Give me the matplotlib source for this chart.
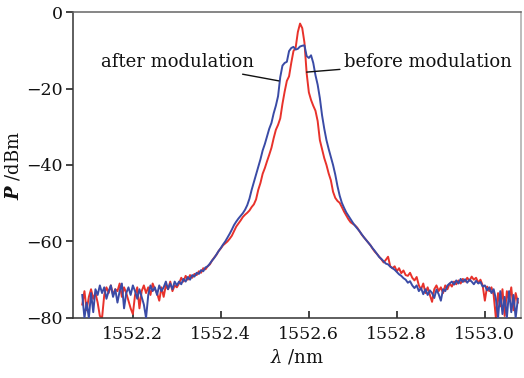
import numpy as np
import matplotlib
matplotlib.use("Agg")
import matplotlib.pyplot as plt

# wavelength sampling grid (nm), step 0.005
wl_start, wl_step, n_pts = 1552.085, 0.005, 199
wavelength = wl_start + wl_step * np.arange(n_pts)

before_mod = [
    -76.5, -73.0, -78.0, -74.5, -72.5, -75.0, -73.5, -76.0, -79.5, -80.0,
    -74.0, -72.0, -73.5, -71.5, -74.0, -72.5, -73.0, -71.0, -74.5, -72.0,
    -73.5, -75.5, -77.5, -79.0, -74.0, -72.0, -77.5, -73.0, -71.5, -73.5,
    -72.0, -74.0, -71.0, -72.5, -73.5, -75.5, -72.0, -74.5, -71.5, -72.5,
    -70.5, -73.0, -71.5, -72.0,
    -71.0, -69.5, -70.5, -69.0, -70.0, -68.8, -69.5, -68.5, -68.8, -67.8,
    -68.2, -67.0, -67.3, -66.5, -66.0, -65.0, -64.2, -63.5, -62.5, -61.8,
    -61.0, -60.5, -60.0, -59.3, -58.5, -57.3, -56.1, -55.3, -54.5, -53.6,
    -53.0, -52.5, -51.9, -51.0, -50.3, -49.0, -46.5, -44.7, -42.3, -40.8,
    -39.0, -37.3, -35.5, -33.0, -30.8, -29.5, -27.8, -24.0, -20.8, -18.0,
    -16.8, -13.3, -10.2, -9.3, -5.2, -3.0, -4.2, -8.0, -16.0, -21.0,
    -23.0, -24.5, -25.8, -28.5, -33.5, -35.8, -38.2, -40.0, -42.2, -44.0,
    -47.0, -48.6, -49.4, -49.9, -51.0, -52.2, -53.2, -54.2, -55.0, -55.4,
    -55.8, -56.4, -57.3, -58.2, -58.9, -59.6, -60.3, -61.0, -61.9, -62.7,
    -63.3, -64.0, -64.7, -65.5, -64.8, -64.0, -66.5, -67.0, -66.5, -67.8,
    -67.0, -68.3, -67.6, -68.8, -69.0, -68.2, -69.5, -70.2, -69.3, -71.5,
    -72.5, -71.0, -73.5, -72.0, -74.0, -75.8, -72.5, -71.5, -73.0, -72.0,
    -73.5, -71.5, -72.5, -71.0, -71.8, -70.5, -71.2, -70.2, -71.0, -69.8,
    -70.5, -69.5, -70.3, -69.2, -70.0, -69.5, -70.8, -70.0, -71.5, -75.5,
    -71.8, -73.0, -72.0, -74.0, -80.0, -73.5, -77.0, -72.5, -79.5, -73.0,
    -75.5, -72.0, -78.0, -73.5, -76.0,
]

after_mod = [
    -74.0, -80.0, -76.0, -80.0, -73.5, -78.5, -72.5, -74.0, -71.5, -73.5,
    -72.0, -75.0, -73.0, -71.5, -74.5, -72.5, -76.0, -73.0, -71.0, -77.5,
    -73.5, -72.0, -74.0, -71.5, -73.0, -75.0, -72.5, -74.5, -76.5, -80.0,
    -74.0, -71.5, -73.0, -72.0, -74.0, -71.5, -73.0, -72.0, -70.5, -72.5,
    -71.0, -72.5, -70.5, -71.5,
    -70.5, -71.2, -69.8, -70.5, -69.3, -70.0, -68.8, -69.2, -68.2, -68.5,
    -67.5, -67.8, -66.8, -66.5, -65.8, -65.0, -64.3, -63.4, -62.5, -61.7,
    -60.8, -60.0, -59.0, -58.0, -56.9, -55.7, -54.8, -54.0, -53.3, -52.6,
    -51.7, -50.5, -48.8, -46.5, -44.5, -42.5, -40.5, -38.5, -36.2, -34.5,
    -32.5, -30.5, -29.0, -26.5, -24.5, -22.0, -17.0, -14.0, -13.3, -13.0,
    -10.2, -9.4, -9.1, -9.8, -9.6, -9.0, -8.8, -8.7, -11.5, -12.0,
    -11.3, -13.3, -16.5, -19.0, -22.5, -27.0, -30.5, -33.5, -35.8, -37.9,
    -40.0, -42.5, -45.5, -48.0, -49.9, -51.2, -52.4, -53.3, -54.2, -55.1,
    -55.9, -56.6, -57.3, -58.1, -58.9, -59.6, -60.3, -61.0, -61.8, -62.5,
    -63.3, -64.1, -64.6, -65.2, -65.8, -66.0, -66.6, -67.0, -67.4, -68.0,
    -68.6, -69.0, -69.6, -70.0, -70.8, -70.4, -71.5, -72.2, -71.5, -73.0,
    -72.2, -73.8, -72.5, -74.0, -72.8, -73.5, -74.8, -72.6, -73.8, -75.5,
    -72.5, -73.0, -71.5, -71.0, -70.5, -71.3, -70.2, -71.0, -69.8, -70.6,
    -69.9, -70.8, -70.0, -70.5, -71.2, -70.3, -71.0, -70.6, -71.8, -71.5,
    -72.8, -72.0, -73.5, -72.5, -75.0, -80.0, -73.0, -79.0, -74.5, -80.0,
    -73.0, -78.5, -74.0, -80.0, -75.0,
]

x_ticks = [1552.2, 1552.4, 1552.6, 1552.8, 1553.0]
x_tick_labels = ["1552.2", "1552.4", "1552.6", "1552.8", "1553.0"]
y_ticks = [-80, -60, -40, -20, 0]
y_tick_labels = ["\u221280", "\u221260", "\u221240", "\u221220", "0"]

plt.rcParams['font.family'] = ['DejaVu Serif']
plt.rcParams['mathtext.fontset'] = 'dejavuserif'

fig = plt.figure(figsize=(5.24, 3.78), dpi=100)
ax = fig.add_axes([0.139, 0.159, 0.856, 0.809])

red = '#e8322b'
blue = '#3a4ba6'
ax.plot(wavelength, before_mod, color=red, lw=1.4, zorder=2)
ax.plot(wavelength, after_mod, color=blue, lw=1.4, zorder=3)

ax.set_xlim(1552.0636, 1553.083)
ax.set_ylim(-80, 0)
ax.set_xticks(x_ticks)
ax.set_xticklabels(x_tick_labels)
ax.set_yticks(y_ticks)
ax.set_yticklabels(y_tick_labels)
ax.tick_params(axis='x', direction='in', length=5, width=1.1, labelsize=12.5, pad=6, colors='#111111')
ax.tick_params(axis='y', direction='out', length=5, width=1.1, labelsize=12.5, pad=2, colors='#111111')
for s in ax.spines.values():
    s.set_color('#333333')
    s.set_linewidth(1.1)
ax.spines['top'].set_color('#666666')
ax.spines['right'].set_color('#aaaaaa')

ax.set_xlabel(r'$\lambda$ /nm', fontsize=13, labelpad=3, color='#111111')
ax.set_ylabel(r'$\boldsymbol{P}$ /dBm', fontsize=13, labelpad=3, color='#111111')

ax.annotate('after modulation', xy=(1552.532, -18.0), xytext=(1552.475, -13.1),
            ha='right', va='center', fontsize=13, color='#111111',
            arrowprops=dict(arrowstyle='-', color='#111111', lw=1.0, shrinkA=1, shrinkB=0))
ax.annotate('before modulation', xy=(1552.595, -15.7), xytext=(1552.680, -13.1),
            ha='left', va='center', fontsize=13, color='#111111',
            arrowprops=dict(arrowstyle='-', color='#111111', lw=1.0, shrinkA=1, shrinkB=0))

fig.savefig('out.png', dpi=100)
